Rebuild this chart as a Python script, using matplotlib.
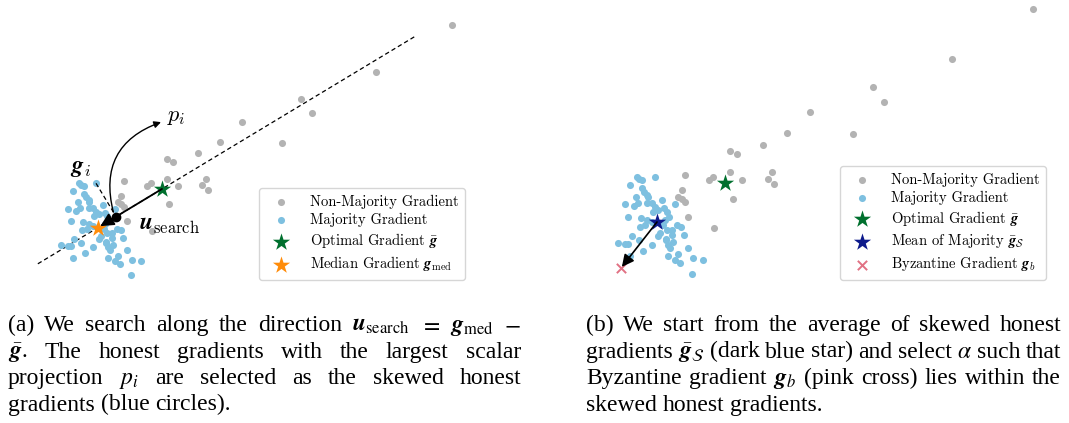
import matplotlib
matplotlib.use("Agg")
import matplotlib.pyplot as plt
import numpy as np

plt.rcParams["font.family"] = "cmr10"
plt.rcParams["mathtext.fontset"] = "cm"
plt.rcParams["axes.unicode_minus"] = False

# gradients shared by both panels (same 2-d embedding)
other_x = [473, 392, 313, 324, 250, 293, 227, 203, 170, 177, 125, 149, 153,
           170, 182, 212, 208, 214, 173, 122, 118, 122, 125, 128, 154]
other_y = [281, 231, 203, 188, 178, 156, 157, 145, 139, 136, 115, 110, 113,
           118, 110, 118, 111, 106, 91, 100, 93, 91, 88, 73, 62]

honest_x = [77, 79, 82, 95, 70, 82, 84, 87, 88, 76, 65, 74, 78, 87, 92, 95,
            102, 104, 115, 98, 107, 93, 68, 81, 87, 92, 109, 105, 103, 80, 85,
            117, 121, 112, 107, 100, 112, 72, 98, 106, 124, 79, 58, 65, 68, 92,
            108, 113, 110, 128, 83, 106, 70, 108, 118, 133, 143, 120, 115, 132]
honest_y = [113, 111, 110, 113, 105, 102, 98, 95, 93, 93, 86, 84, 87, 87, 87,
            83, 90, 82, 86, 80, 78, 78, 73, 72, 70, 68, 73, 70, 65, 63, 65, 65,
            63, 60, 60, 57, 55, 54, 54, 51, 55, 50, 47, 46, 46, 45, 45, 48, 42,
            42, 39, 50, 34, 34, 36, 32, 30, 27, 30, 16]

g_bar = (165, 107)      # optimal gradient
g_med = (97, 66)        # median gradient
g_mean_s = (97, 68)     # mean of majority
g_byz = (61, 22)        # byzantine gradient
g_i = (95, 113)         # the honest gradient being projected

GRAY = "#b3b3b3"
BLUE = "#7ec0e0"
GREEN = "#00702e"
ORANGE = "#ff8c0a"
NAVY = "#0d1a8c"
PINK = "#e17183"

W, H = 1069, 423
fig = plt.figure(figsize=(W / 100, H / 100), dpi=100)


def px_axes(x0, x1, y0, y1):
    ax = fig.add_axes([x0 / W, 1 - y1 / H, (x1 - x0) / W, (y1 - y0) / H])
    ax.set_axis_off()
    return ax


def base_scatter(ax):
    ax.scatter(other_x, other_y, s=26, color=GRAY, lw=0, zorder=2,
               label="Non-Majority Gradient")
    ax.scatter(honest_x, honest_y, s=26, color=BLUE, lw=0, zorder=3,
               label="Majority Gradient")
    ax.scatter(*g_bar, marker="*", s=170, color=GREEN, lw=0, zorder=5,
               label=r"Optimal Gradient $\bar{\boldsymbol{g}}$")


def add_legend(ax, right, bottom):
    ax.legend(loc="lower right", bbox_to_anchor=(right / W, 1 - bottom / H),
              bbox_transform=fig.transFigure, borderaxespad=0, fontsize=10.5,
              labelspacing=0.28, handletextpad=1.0, borderpad=0.45)


# ---- panel (a): search direction
ax_a = px_axes(0, 500, 0, 290)
ax_a.set_xlim(-7, 524)
ax_a.set_ylim(-0.3, 307.7)
base_scatter(ax_a)
ax_a.scatter(*g_med, marker="*", s=170, color=ORANGE, lw=0, zorder=5,
             label=r"Median Gradient $\boldsymbol{g}_{\mathrm{med}}$")

d = np.subtract(g_med, g_bar)
t = np.array([-3.94, 1.95])
ax_a.plot(g_bar[0] + t * d[0], g_bar[1] + t * d[1], color="k", lw=0.9,
          dashes=(3.5, 2.4), zorder=1)

# projection of g_i onto the search line
v = np.subtract(g_i, g_bar)
proj = np.add(g_bar, d * np.dot(v, d) / np.dot(d, d))
ax_a.plot([g_i[0], proj[0]], [g_i[1], proj[1]], color="k", lw=0.9,
          dashes=(3.5, 2.4), zorder=4)
ax_a.annotate("", xy=g_med, xytext=g_bar, zorder=6,
              arrowprops=dict(arrowstyle="-|>", color="k", lw=1.3,
                              mutation_scale=20, shrinkA=0, shrinkB=2))
ax_a.scatter(*proj, s=36, color="k", zorder=7)
ax_a.annotate("", xy=(164, 178), xytext=(proj[0] - 3, proj[1] + 5), zorder=6,
              arrowprops=dict(arrowstyle="-|>", color="k", lw=1.0,
                              mutation_scale=10, shrinkA=0, shrinkB=0,
                              connectionstyle="arc3,rad=-0.45"))
ax_a.text(78, 129, r"$\boldsymbol{g}_i$", fontsize=17, ha="center", va="center")
ax_a.text(170, 183, r"$p_i$", fontsize=16, ha="left", va="center")
ax_a.text(141, 69, r"$\boldsymbol{u}_{\mathrm{search}}$", fontsize=17,
          ha="left", va="center")
add_legend(ax_a, 465, 280)

# ---- panel (b): byzantine gradient inside the skewed cluster
ax_b = px_axes(560, 1069, 0, 290)
ax_b.set_xlim(0, 509)
ax_b.set_ylim(0, 290)
base_scatter(ax_b)
ax_b.scatter(*g_mean_s, marker="*", s=170, color=NAVY, lw=0, zorder=5,
             label=r"Mean of Majority $\bar{\boldsymbol{g}}_{\mathcal{S}}$")
ax_b.scatter(*g_byz, marker="x", s=45, color=PINK, lw=1.4, zorder=5,
             label=r"Byzantine Gradient $\boldsymbol{g}_b$")
ax_b.annotate("", xy=g_byz, xytext=g_mean_s, zorder=6,
              arrowprops=dict(arrowstyle="-|>", color="k", lw=1.2,
                              mutation_scale=18, shrinkA=0, shrinkB=1))
add_legend(ax_b, 1046, 280)

# ---- sub-captions, justified word by word
cap_a = [
    r"(a) We search along the direction $\boldsymbol{u}_\mathrm{search}$ $=$ $\boldsymbol{g}_\mathrm{med}$ $-$",
    r"$\bar{\boldsymbol{g}}$. The honest gradients with the largest scalar",
    r"projection $p_i$ are selected as the skewed honest",
    r"gradients (blue circles).",
]
cap_b = [
    r"(b) We start from the average of skewed honest",
    r"gradients $\bar{\boldsymbol{g}}_\mathcal{S}$ (dark blue star) and select $\alpha$ such that",
    r"Byzantine gradient $\boldsymbol{g}_b$ (pink cross) lies within the",
    r"skewed honest gradients.",
]


def caption(lines, x0, x1, y_first, step, fs=17):
    r = fig.canvas.get_renderer()
    for i, line in enumerate(lines):
        words = line.split(" ")
        y = 1 - (y_first + i * step) / H
        arts = [fig.text(0, y, w, fontsize=fs, family="Liberation Serif",
                         math_fontfamily="stix", va="baseline") for w in words]
        widths = [a.get_window_extent(r).width for a in arts]
        if i == len(lines) - 1:
            gap = 0.25 * fs * 100 / 72
        else:
            gap = (x1 - x0 - sum(widths)) / (len(words) - 1)
        x = x0
        for a, w in zip(arts, widths):
            a.set_x(x / W)
            x += w + gap


caption(cap_a, 8, 521, 331, 26.5)
caption(cap_b, 586, 1061, 331, 26.5)

fig.savefig("out.png", dpi=100, facecolor="white")
